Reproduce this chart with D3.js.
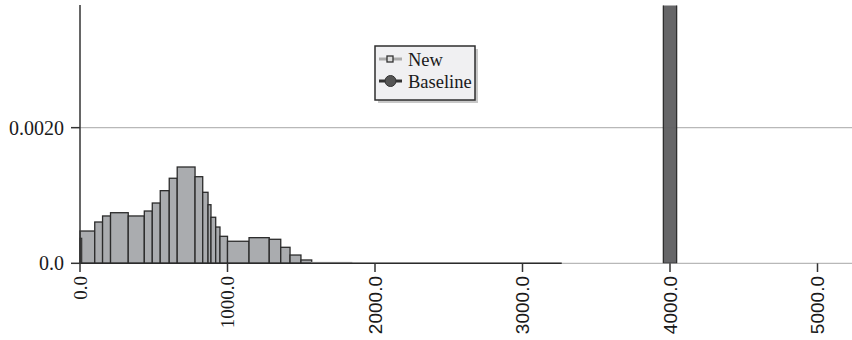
<!DOCTYPE html>
<html><head><meta charset="utf-8">
<script src="https://cdn.jsdelivr.net/npm/d3@7"></script>
<style>body{margin:0;background:#fff}svg{display:block}</style>
</head><body>
<script>
// Histogram "New": bin edges and density values
const binStarts = [0, 100, 153, 207, 327, 436, 490, 544, 605, 659, 780, 832, 868, 888, 920, 949, 1000, 1146, 1283, 1361, 1424, 1498, 1571, 1842];
const binEnds   = [100, 153, 207, 327, 436, 490, 544, 605, 659, 780, 832, 868, 888, 920, 949, 1000, 1146, 1283, 1361, 1424, 1498, 1571, 1842, 3266];
const newValues = [0.000476, 0.000609, 0.000698, 0.000746, 0.000698, 0.000771, 0.000889, 0.001071, 0.001254, 0.00142, 0.001277, 0.001047, 0.000864, 0.000679, 0.000535, 0.000398, 0.000325, 0.000378, 0.000354, 0.000236, 0.000122, 0.000049, 0.000012, 0];
// narrow spike at zero
const spikeStart = [0], spikeEnd = [12], spikeValue = [0.00037];
// Baseline bar
const baseStart = [3955], baseEnd = [4045], baseValue = [0.01];
const xTicks = [0, 1000, 2000, 3000, 4000, 5000];
const yTicks = [0, 0.002];
const yTickLabels = ["0.0", "0.0020"];
const legendLabels = ["New", "Baseline"];

const W = 852, H = 340;
const svg = d3.select("body").append("svg").attr("width", W).attr("height", H);
const x = d3.scaleLinear().domain([0, 5000]).range([80, 817.5]);
const y = d3.scaleLinear().domain([0, 0.0038]).range([263.3, 5.6]);

// gridlines
svg.append("g").selectAll("line").data(yTicks).join("line")
  .attr("x1", 80).attr("x2", W).attr("y1", d => y(d)).attr("y2", d => y(d))
  .attr("stroke", "#b8b8b8").attr("stroke-width", 1.2);

// histogram New
const bins = binStarts.map((s, i) => ({s, e: binEnds[i], v: newValues[i]}));
svg.append("g").selectAll("rect").data(bins.filter(d => d.v > 0)).join("rect")
  .attr("x", d => x(d.s)).attr("width", d => x(d.e) - x(d.s))
  .attr("y", d => y(d.v)).attr("height", d => y(0) - y(d.v))
  .attr("fill", "#aaacaf").attr("stroke", (d, i) => d.v < 0.00002 ? "#bbb" : "#2b2b2b").attr("stroke-width", 1.3);
svg.append("line").attr("x1", x(binStarts[0])).attr("x2", x(binEnds[binEnds.length - 1]))
  .attr("y1", y(0)).attr("y2", y(0)).attr("stroke", "#2b2b2b").attr("stroke-width", 1.5);
svg.append("g").selectAll("rect").data(spikeStart.map((s, i) => ({s, e: spikeEnd[i], v: spikeValue[i]}))).join("rect")
  .attr("x", d => x(d.s)).attr("width", d => x(d.e) - x(d.s))
  .attr("y", d => y(d.v)).attr("height", d => y(0) - y(d.v))
  .attr("fill", "#555").attr("stroke", "#2b2b2b").attr("stroke-width", 1);

// baseline bar (clipped at top)
svg.append("defs").append("clipPath").attr("id", "clip").append("rect")
  .attr("x", 0).attr("y", 5.6).attr("width", W).attr("height", 263.3 - 5.6);
svg.append("g").attr("clip-path", "url(#clip)").selectAll("rect")
  .data(baseStart.map((s, i) => ({s, e: baseEnd[i], v: baseValue[i]}))).join("rect")
  .attr("x", d => x(d.s)).attr("width", d => x(d.e) - x(d.s))
  .attr("y", d => y(d.v)).attr("height", d => y(0) - y(d.v))
  .attr("fill", "#5e5e60").attr("fill-opacity", 0.95).attr("stroke", "#2e2e2e").attr("stroke-width", 1.3);

// y axis
svg.append("line").attr("x1", 80).attr("x2", 80).attr("y1", 5).attr("y2", 263.3)
  .attr("stroke", "#333").attr("stroke-width", 1.5);
const ya = svg.append("g");
ya.selectAll("line").data(yTicks).join("line")
  .attr("x1", 71).attr("x2", 80).attr("y1", d => y(d)).attr("y2", d => y(d))
  .attr("stroke", "#333").attr("stroke-width", 1.5);
ya.selectAll("text").data(yTicks).join("text")
  .attr("x", 64).attr("y", d => y(d)).attr("dy", "0.35em").attr("text-anchor", "end")
  .attr("font-family", "Liberation Serif, serif").attr("font-size", 20).attr("fill", "#1a1a1a")
  .text((d, i) => yTickLabels[i]);

// x axis ticks
const xa = svg.append("g");
xa.selectAll("line").data(xTicks).join("line")
  .attr("x1", d => x(d)).attr("x2", d => x(d)).attr("y1", 263.3).attr("y2", 272)
  .attr("stroke", "#333").attr("stroke-width", 1.5);
xa.selectAll("text").data(xTicks).join("text")
  .attr("transform", d => `translate(${x(d)},276) rotate(-90)`)
  .attr("text-anchor", "end").attr("dy", "0.35em")
  .attr("font-family", (d, i) => i < 2 ? "Liberation Serif, serif" : "Liberation Sans, Arial, sans-serif")
  .attr("font-size", 19).attr("fill", "#1a1a1a")
  .text(d => d3.format(".1f")(d));

// legend
const lg = svg.append("g");
lg.append("rect").attr("x", 378).attr("y", 49).attr("width", 100).attr("height", 54).attr("fill", "#c8c8c8");
lg.append("rect").attr("x", 375).attr("y", 46).attr("width", 100).attr("height", 54)
  .attr("fill", "#f0f0f2").attr("stroke", "#2e2e2e").attr("stroke-width", 1.5);
lg.append("line").attr("x1", 379).attr("x2", 402).attr("y1", 59).attr("y2", 59).attr("stroke", "#aaa").attr("stroke-width", 3);
lg.append("rect").attr("x", 387).attr("y", 56).attr("width", 6).attr("height", 6).attr("fill", "#ddd").attr("stroke", "#333").attr("stroke-width", 1.3);
lg.append("line").attr("x1", 379).attr("x2", 402).attr("y1", 81).attr("y2", 81).attr("stroke", "#333").attr("stroke-width", 3);
lg.append("circle").attr("cx", 390.5).attr("cy", 81).attr("r", 5.5).attr("fill", "#555").attr("stroke", "#333").attr("stroke-width", 1);
lg.selectAll("text").data(legendLabels).join("text")
  .attr("x", 408).attr("y", (d, i) => 66 + i * 22)
  .attr("font-family", "Liberation Serif, serif").attr("font-size", 18.5).attr("fill", "#1a1a1a")
  .text(d => d);
</script>
</body></html>
